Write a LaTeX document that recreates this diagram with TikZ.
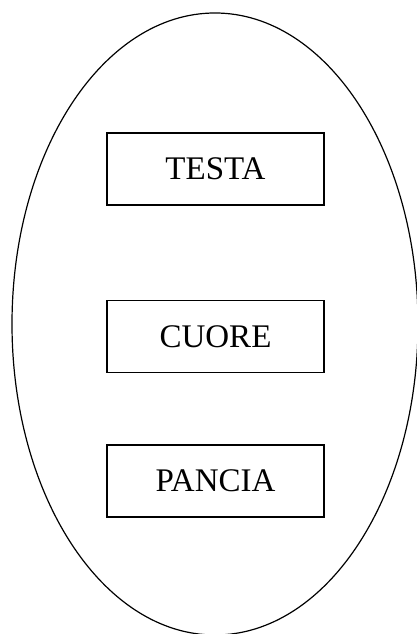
\documentclass[tikz,border=0pt]{standalone}
\usepackage{fontspec}
\setmainfont{Liberation Serif}
\usepackage{tikz}
\usetikzlibrary{shapes.geometric, positioning}
\tikzstyle{part} = [rectangle, minimum width=217pt, minimum height=72pt, text centered, draw=black, line width=1.3pt, font=\fontsize{33}{38}\selectfont]
\tikzstyle{body} = [ellipse, minimum width=406pt, minimum height=622pt, draw=black, line width=1.2pt]

\begin{document}
\begin{tikzpicture}[x=1pt, y=1pt]
      \useasboundingbox (0,0) rectangle (417,634);

      % Outer ellipse
      \node[body] (corpo) at (215,310) {};

      % Parts
      \node[part] (testa) at (215.5,465) {TESTA};
      \node[part] (cuore) at (215.5,297.5) {CUORE};
      \node[part] (pancia) at (215.5,153) {PANCIA};
    \end{tikzpicture}
\end{document}
